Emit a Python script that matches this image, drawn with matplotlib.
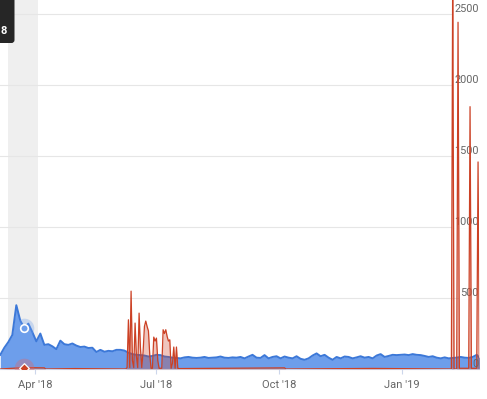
import matplotlib
matplotlib.use("Agg")
import matplotlib.pyplot as plt
import matplotlib.transforms as mtransforms
from matplotlib.patches import FancyBboxPatch
import pandas as pd

plt.rcParams['font.family'] = ['Roboto', 'DejaVu Sans']

# blue area series, one value every 3 days from 2018-03-06
blue_start = '2018-03-06'
blue_values = [
    100, 150, 190, 240, 450, 340, 290, 320, 260, 195,
    250, 170, 175, 160, 140, 200, 175, 170, 180, 165,
    155, 158, 148, 150, 120, 135, 122, 128, 125, 135,
    135, 130, 115, 105, 100, 98, 95, 88, 92, 100,
    98, 88, 85, 80, 78, 75, 82, 85, 80, 78,
    80, 85, 78, 80, 82, 88, 80, 78, 82, 80,
    85, 75, 88, 100, 80, 78, 98, 75, 85, 90,
    75, 88, 80, 75, 90, 72, 65, 75, 95, 110,
    90, 100, 80, 65, 85, 75, 88, 85, 75, 82,
    90, 80, 85, 75, 95, 105, 85, 92, 100, 98,
    100, 102, 98, 105, 100, 98, 92, 85, 90, 80,
    75, 82, 75, 78, 80, 85, 80, 78, 85, 100, 70,
]

# red series (spiky)
red_dates = [
    '2018-03-06', '2018-03-24', '2018-04-08', '2018-04-09', '2018-05-01', '2018-06-08',
    '2018-06-09', '2018-06-10', '2018-06-11', '2018-06-12', '2018-06-13', '2018-06-14',
    '2018-06-15', '2018-06-16', '2018-06-17', '2018-06-18', '2018-06-19', '2018-06-20',
    '2018-06-21', '2018-06-22', '2018-06-23', '2018-06-24', '2018-06-25', '2018-06-26',
    '2018-06-27', '2018-06-28', '2018-06-29', '2018-06-30', '2018-07-01', '2018-07-02',
    '2018-07-03', '2018-07-04', '2018-07-05', '2018-07-06', '2018-07-07', '2018-07-08',
    '2018-07-09', '2018-07-10', '2018-07-11', '2018-07-12', '2018-07-13', '2018-07-14',
    '2018-07-15', '2018-07-16', '2018-07-17', '2018-07-18', '2018-08-20', '2018-10-05',
    '2018-10-06', '2018-12-10', '2019-02-07', '2019-02-08', '2019-02-09', '2019-02-11',
    '2019-02-12', '2019-02-13', '2019-02-20', '2019-02-21', '2019-02-22', '2019-02-26',
    '2019-02-27', '2019-02-28',
]
red_values = [
    0, 10, 8, 0, 3, 0,
    10, 347, 10, 549, 60, 10,
    324, 90, 10, 394, 150, 10,
    120, 300, 338, 300, 268, 100,
    5, 5, 225, 197, 218, 60,
    5, 5, 5, 277, 250, 277,
    230, 197, 206, 5, 40, 155,
    5, 155, 5, 3, 5, 8,
    0, 4, 0, 2800, 0, 0,
    2445, 5, 5, 1850, 5, 5,
    1460, 0,
]

y_ticks = [500, 1000, 1500, 2000, 2500]
x_tick_dates = ['2018-04-01', '2018-07-01', '2018-10-01', '2019-01-01']
x_tick_labels = ["Apr '18", "Jul '18", "Oct '18", "Jan '19"]
hover_date = '2018-03-24'
tooltip_text = '8'

blue_dates = pd.date_range(blue_start, periods=len(blue_values), freq='3D')
red_dates = pd.to_datetime(red_dates)

fig = plt.figure(figsize=(4.87, 3.99), dpi=100)
ax = fig.add_axes([0, 30 / 399, 479 / 487, 369 / 399])

px_day = 1.3345
apr = pd.Timestamp('2018-04-01')
ax.set_xlim(apr - pd.Timedelta(days=35 / px_day), apr + pd.Timedelta(days=444 / px_day))
ax.set_ylim(0, 2602)

# hover band
ax.axvspan(apr - pd.Timedelta(days=20.2), apr + pd.Timedelta(days=2.25),
           color='#efefef', lw=0, zorder=0.1)

ax.set_yticks(y_ticks)
ax.grid(axis='y', color='#e6e6e6', lw=0.8)
ax.set_axisbelow(True)
ax.tick_params(axis='y', left=False, labelleft=False)
for v in y_ticks:
    ax.annotate(str(v), xy=(1, v), xycoords=ax.get_yaxis_transform(),
                xytext=(-0.3, 0.3), textcoords='offset points',
                ha='right', va='bottom', fontsize=7.8, color='#666666', zorder=1,
                bbox=dict(boxstyle='square,pad=0.15', fc='white', ec='none'))
ax.annotate('0', xy=(1, 0), xycoords=ax.get_yaxis_transform(),
            xytext=(-0.3, 0.3), textcoords='offset points',
            ha='right', va='bottom', fontsize=7.8, color='#666666', zorder=6)

# series
ax.fill_between(blue_dates, blue_values, 0, color='#6d9eeb', lw=0, zorder=2)
ax.plot(blue_dates, blue_values, color='#3c78d8', lw=1.4, zorder=2.1)
ax.fill_between(red_dates, red_values, 0, color='#cc4125', alpha=0.3, lw=0, zorder=3)
ax.plot(red_dates, red_values, color='#cc4125', lw=0.9, zorder=3.1)

# hover markers
hd = pd.Timestamp(hover_date)
bv = blue_values[list(blue_dates).index(hd)]
rv = red_values[list(red_dates).index(hd)]
ax.scatter([hd], [bv], s=200, color='#6d9eeb', alpha=0.3, lw=0, zorder=4)
ax.scatter([hd], [bv], s=30, facecolor='#6d9eeb', edgecolor='white', lw=1.2, zorder=5)
ax.scatter([hd], [rv], s=200, color='#e06666', alpha=0.35, lw=0, zorder=4)
ax.scatter([hd], [rv], s=24, marker='D', facecolor='#cc4125', edgecolor='white', lw=0.9, zorder=5)

for s in ['top', 'left', 'right']:
    ax.spines[s].set_visible(False)
ax.spines['bottom'].set_color('#ccd6eb')
ax.set_xticks(pd.to_datetime(x_tick_dates))
ax.set_xticklabels(x_tick_labels)
ax.tick_params(axis='x', length=3.6, width=0.8, color='#ccd6eb', pad=4,
               labelsize=8, labelcolor='#666666')

# tooltip fragment
tip = FancyBboxPatch((-6, 399 - 43), 20.5, 50, boxstyle='round,pad=0,rounding_size=3',
                     fc='#262626', ec='none', transform=mtransforms.IdentityTransform())
fig.add_artist(tip)
fig.text(3.5 / 487, 1 - 30.5 / 399, tooltip_text, color='white', fontsize=8,
         fontweight='bold', ha='center', va='center')

fig.savefig('out.png', dpi=100)
